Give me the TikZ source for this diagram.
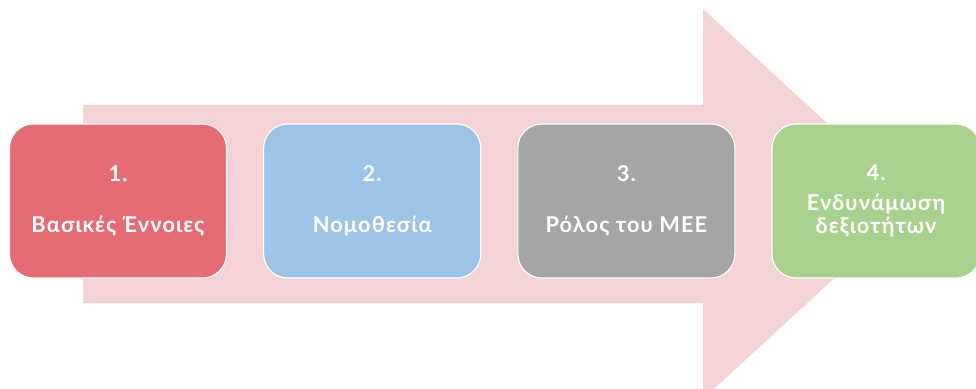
\documentclass[tikz,border=0pt]{standalone}
\usepackage{fontspec}
\setmainfont{Lato}[LetterSpace=5]
\usepackage{xcolor}
\usepackage{tikz}
\usetikzlibrary{positioning}
\definecolor{arrowpink}{RGB}{244,211,214}
\definecolor{rosered}{RGB}{229,108,117}
\definecolor{skyblue}{RGB}{157,195,230}
\definecolor{midgray}{RGB}{165,165,165}
\definecolor{leafgreen}{RGB}{169,209,142}
\tikzset{
  stage/.style ={draw=white, line width=0.8pt, rounded corners=0.6cm, align=center,
                 text=white, font=\fontsize{15.5}{16.5}\selectfont\bfseries,
                 minimum width=5.425cm, minimum height=3.85cm, inner sep=2pt},
  flow/.style  ={fill=arrowpink},
}
\begin{document}
\begin{tikzpicture}[x=0.025cm, y=-0.025cm, node distance=9mm]
\useasboundingbox (0,0) rectangle (976,389);
% big arrow behind the stages
\coordinate (tail top) at (83,105);
\coordinate (tail bot) at (83,303);
\coordinate (tip) at (915,204);
\fill[flow] (tail top) -- (703,105) -- (703,9) -- (tip) -- (703,399) -- (703,303) -- (tail bot) -- cycle;
\node[stage,fill=rosered] (basic) at (118,201) {1.\\[19.5pt]Βασικές Έννοιες};
\node[stage,fill=skyblue,right=of basic] (law) {2.\\[19.5pt]Νομοθεσία};
\node[stage,fill=midgray,right=of law] (role) {3.\\[19.5pt]Ρόλος του ΜΕΕ};
\node[stage,fill=leafgreen,right=of role,minimum width=5.2cm] (skills) {4.\\[5pt]Ενδυνάμωση\\δεξιοτήτων};
\end{tikzpicture}
\end{document}
